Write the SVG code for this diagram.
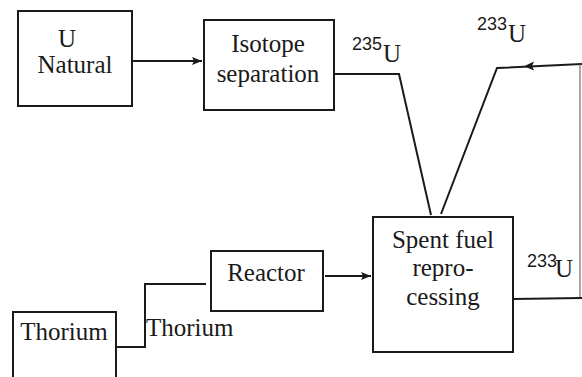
<svg xmlns="http://www.w3.org/2000/svg" width="582" height="377" viewBox="0 0 582 377">
<style>
.box{fill:#fff;stroke:#1a1a1a;stroke-width:2}
.ln{fill:none;stroke:#1a1a1a;stroke-width:2}
.t{font-family:"Liberation Serif","DejaVu Serif",serif;font-size:25px;fill:#1a1a1a}
.m{text-anchor:middle}
.sup{font-family:"Liberation Sans","DejaVu Sans",sans-serif;font-size:18px;fill:#1a1a1a}
.head{fill:#1a1a1a}
</style>
<defs>
<marker id="ah" viewBox="0 0 10 10" refX="10" refY="5" markerWidth="10" markerHeight="10" markerUnits="userSpaceOnUse" orient="auto">
<path d="M0,1 L10,5 L0,9 L2,5 Z" fill="#1a1a1a"/>
</marker>
</defs>
<rect width="582" height="377" fill="#fff"/>
<g id="connectors">
<line class="ln" x1="132" y1="61" x2="202" y2="61" marker-end="url(#ah)"/>
<polyline class="ln" points="334,74 399,74 431,215"/>
<polyline class="ln" points="582,64 497,68 441,214"/>
<path class="head" d="M524,66.3 L534,61.5 L532,66 L534,70.5 Z"/>
<line x1="580" y1="64" x2="580" y2="298" stroke="#555" stroke-width="1"/>
<line class="ln" x1="513" y1="299" x2="582" y2="298"/>
<line class="ln" x1="325" y1="276" x2="371" y2="276" marker-end="url(#ah)"/>
<polyline class="ln" points="116,347 145,347 145,284 206,284"/>
</g>
<g id="u-natural">
<rect class="box" x="18" y="11" width="114" height="95"/>
<text class="t m" x="67" y="47">U</text>
<text class="t m" x="75" y="73">Natural</text>
</g>
<g id="isotope-separation">
<rect class="box" x="204" y="20" width="130" height="90"/>
<text class="t m" x="268" y="52">Isotope</text>
<text class="t m" x="268" y="82">separation</text>
</g>
<g id="reactor">
<rect class="box" x="211" y="251" width="112" height="60"/>
<text class="t m" x="266" y="281">Reactor</text>
</g>
<g id="spent-fuel">
<rect class="box" x="373" y="217" width="140" height="135"/>
<text class="t m" x="443" y="248">Spent fuel</text>
<text class="t m" x="443" y="276">repro-</text>
<text class="t m" x="443" y="305">cessing</text>
</g>
<g id="thorium">
<rect class="box" x="13" y="312" width="103" height="80"/>
<text class="t m" x="64" y="340">Thorium</text>
</g>
<g id="labels">
<text class="t" x="146" y="336">Thorium</text>
<text x="352" y="50" class="sup">235</text><text x="383" y="62" class="t">U</text>
<text x="477" y="30" class="sup">233</text><text x="508" y="42" class="t">U</text>
<text x="527" y="267" class="sup">233</text><text x="555" y="277" class="t">U</text>
</g>
</svg>
